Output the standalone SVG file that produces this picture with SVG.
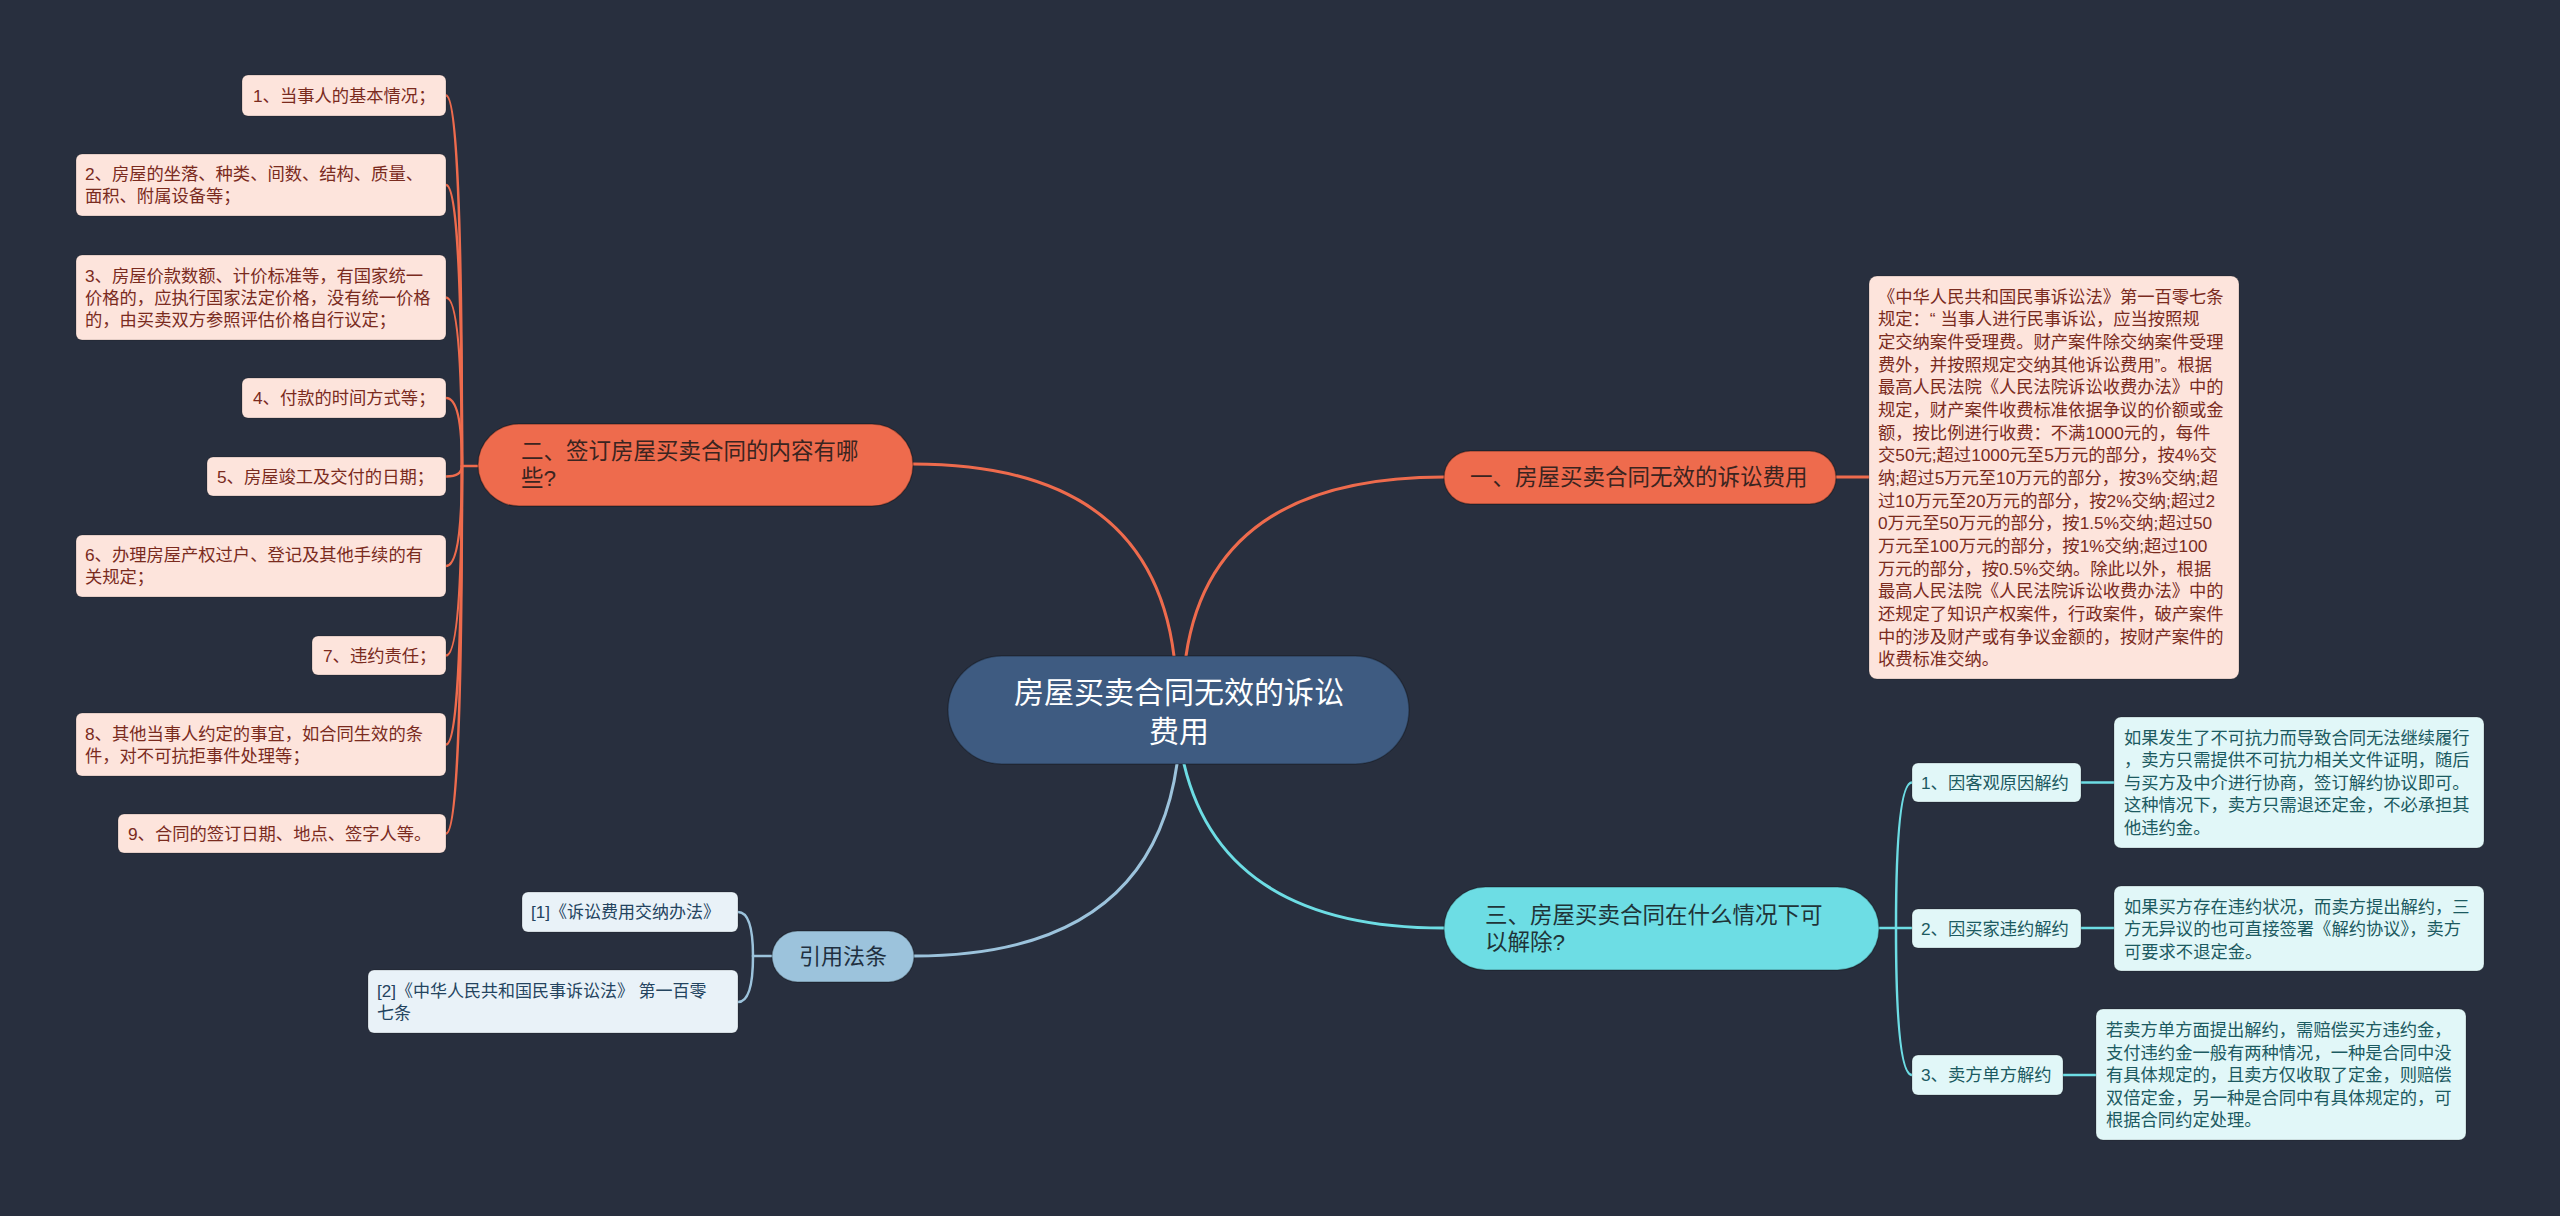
<svg xmlns="http://www.w3.org/2000/svg" width="2560" height="1216" viewBox="0 0 2560 1216">
<defs>
<style>
text{font-family:'Liberation Sans','Noto Sans CJK SC',sans-serif;dominant-baseline:central}
.c{fill:none;stroke-linecap:round}
.o{stroke:#ee6b4d;stroke-width:3}
.o2{stroke:#ee6b4d;stroke-width:2.5}
.cy{stroke:#6ddde4;stroke-width:3}
.cy2{stroke:#6ddde4;stroke-width:2.5}
.lb{stroke:#9cc3dc;stroke-width:3}
.lb2{stroke:#9cc3dc;stroke-width:2.5}
.center rect{fill:#3e5b81;stroke:rgba(0,0,0,0.25);stroke-width:1.5}
.center text{fill:#ffffff;font-size:30px;text-anchor:middle}
.topicO rect{fill:#ee6b4d;stroke:rgba(0,0,0,0.3);stroke-width:1.5}
.topicO text{fill:#3a2420;font-size:22.5px}
.topicC rect{fill:#6ddde4;stroke:rgba(0,0,0,0.25);stroke-width:1.5}
.topicC text{fill:#1f3438;font-size:22.5px}
.topicB rect{fill:#9cc3dc;stroke:rgba(0,0,0,0.25);stroke-width:1.5}
.topicB text{fill:#1f3040;font-size:22px;text-anchor:middle}
.leafO rect{fill:#fde4dc;stroke:rgba(0,0,0,0.2);stroke-width:1}
.leafO text{fill:#7a2b1e;font-size:17.3px}
.leafC rect{fill:#e1f7f8;stroke:rgba(0,0,0,0.2);stroke-width:1}
.leafC text{fill:#1c5a61;font-size:17.3px}
.leafB rect{fill:#e9f2f8;stroke:rgba(0,0,0,0.2);stroke-width:1}
.leafB text{fill:#24445f;font-size:17px}
</style>
</defs>
<rect x="0" y="0" width="2560" height="1216" fill="#282f3e"/>

<g id="connectors">
<path class="c o" d="M1174 656 Q1150 464 913 464"/>
<path class="c o" d="M1186 656 Q1212 477 1444 477"/>
<path class="c o" d="M1836 477 L1869 477"/>
<path class="c cy" d="M1184 764 Q1223 928 1444 928"/>
<path class="c lb" d="M1177 764 Q1150 956 914 956"/>
<path class="c o2" d="M478 466 L462 466"/>
<path class="c o2" d="M462 466 Q462 95.5 446 95.5"/>
<path class="c o2" d="M462 466 Q462 185 446 185"/>
<path class="c o2" d="M462 466 Q462 297.5 446 297.5"/>
<path class="c o2" d="M462 466 Q462 398 446 398"/>
<path class="c o2" d="M462 466 Q462 476.5 446 476.5"/>
<path class="c o2" d="M462 466 Q462 566 446 566"/>
<path class="c o2" d="M462 466 Q462 655.5 446 655.5"/>
<path class="c o2" d="M462 466 Q462 744.5 446 744.5"/>
<path class="c o2" d="M462 466 Q462 833.5 446 833.5"/>
<path class="c cy2" d="M1879 928 L1896 928"/>
<path class="c cy2" d="M1896 928 Q1896 782.5 1912 782.5"/>
<path class="c cy2" d="M1896 928 L1912 928"/>
<path class="c cy2" d="M1896 928 Q1896 1075 1912 1075"/>
<path class="c cy2" d="M2081 782.5 L2114 782.5"/>
<path class="c cy2" d="M2081 928 L2114 928"/>
<path class="c cy2" d="M2063 1075 L2096 1075"/>
<path class="c lb2" d="M772 956 L753 956"/>
<path class="c lb2" d="M753 956 Q753 912 738 912"/>
<path class="c lb2" d="M753 956 Q753 1002 738 1002"/>
</g>

<g id="central" class="center">
<rect x="948" y="656" width="461" height="108" rx="54"/>
<text x="1179" y="692">房屋买卖合同无效的诉讼</text>
<text x="1179" y="731">费用</text>
</g>

<g id="topic1" class="topicO">
<rect x="1444" y="451" width="392" height="53" rx="26.5"/>
<text x="1470" y="477.5">一、房屋买卖合同无效的诉讼费用</text>
</g>

<g id="topic1-detail" class="leafO">
<rect x="1869" y="276" width="370" height="403" rx="8"/>
<text x="1878" y="296.7">《中华人民共和国民事诉讼法》第一百零七条</text>
<text x="1878" y="319.4">规定：“ 当事人进行民事诉讼，应当按照规</text>
<text x="1878" y="342">定交纳案件受理费。财产案件除交纳案件受理</text>
<text x="1878" y="364.7">费外，并按照规定交纳其他诉讼费用”。根据</text>
<text x="1878" y="387.3">最高人民法院《人民法院诉讼收费办法》中的</text>
<text x="1878" y="410">规定，财产案件收费标准依据争议的价额或金</text>
<text x="1878" y="432.6">额，按比例进行收费：不满1000元的，每件</text>
<text x="1878" y="455.3">交50元;超过1000元至5万元的部分，按4%交</text>
<text x="1878" y="477.9">纳;超过5万元至10万元的部分，按3%交纳;超</text>
<text x="1878" y="500.6">过10万元至20万元的部分，按2%交纳;超过2</text>
<text x="1878" y="523.2">0万元至50万元的部分，按1.5%交纳;超过50</text>
<text x="1878" y="545.9">万元至100万元的部分，按1%交纳;超过100</text>
<text x="1878" y="568.5">万元的部分，按0.5%交纳。除此以外，根据</text>
<text x="1878" y="591.2">最高人民法院《人民法院诉讼收费办法》中的</text>
<text x="1878" y="613.8">还规定了知识产权案件，行政案件，破产案件</text>
<text x="1878" y="636.5">中的涉及财产或有争议金额的，按财产案件的</text>
<text x="1878" y="659.1">收费标准交纳。</text>
</g>

<g id="topic2" class="topicO">
<rect x="478" y="424" width="435" height="82" rx="41"/>
<text x="521" y="451.5">二、签订房屋买卖合同的内容有哪</text>
<text x="521" y="478.5">些?</text>
</g>

<g id="leaf2-1" class="leafO">
<rect x="242" y="75" width="204" height="41" rx="6"/>
<text x="253" y="95.5">1、当事人的基本情况；</text>
</g>
<g id="leaf2-2" class="leafO">
<rect x="76" y="154" width="370" height="62" rx="6"/>
<text x="85" y="174">2、房屋的坐落、种类、间数、结构、质量、</text>
<text x="85" y="196">面积、附属设备等；</text>
</g>
<g id="leaf2-3" class="leafO">
<rect x="76" y="255" width="370" height="85" rx="6"/>
<text x="85" y="276">3、房屋价款数额、计价标准等，有国家统一</text>
<text x="85" y="298">价格的，应执行国家法定价格，没有统一价格</text>
<text x="85" y="320">的，由买卖双方参照评估价格自行议定；</text>
</g>
<g id="leaf2-4" class="leafO">
<rect x="242" y="378" width="204" height="40" rx="6"/>
<text x="253" y="398">4、付款的时间方式等；</text>
</g>
<g id="leaf2-5" class="leafO">
<rect x="207" y="457" width="239" height="39" rx="6"/>
<text x="217" y="476.5">5、房屋竣工及交付的日期；</text>
</g>
<g id="leaf2-6" class="leafO">
<rect x="76" y="535" width="370" height="62" rx="6"/>
<text x="85" y="555">6、办理房屋产权过户、登记及其他手续的有</text>
<text x="85" y="577">关规定；</text>
</g>
<g id="leaf2-7" class="leafO">
<rect x="312" y="636" width="134" height="39" rx="6"/>
<text x="323" y="655.5">7、违约责任；</text>
</g>
<g id="leaf2-8" class="leafO">
<rect x="76" y="713" width="370" height="63" rx="6"/>
<text x="85" y="733.5">8、其他当事人约定的事宜，如合同生效的条</text>
<text x="85" y="755.5">件，对不可抗拒事件处理等；</text>
</g>
<g id="leaf2-9" class="leafO">
<rect x="118" y="814" width="328" height="39" rx="6"/>
<text x="128" y="833.5">9、合同的签订日期、地点、签字人等。</text>
</g>

<g id="topic3" class="topicC">
<rect x="1444" y="887" width="435" height="83" rx="41.5"/>
<text x="1485" y="915">三、房屋买卖合同在什么情况下可</text>
<text x="1485" y="942">以解除?</text>
</g>

<g id="sub3-1" class="leafC">
<rect x="1912" y="763" width="169" height="39" rx="6"/>
<text x="1921" y="782.5">1、因客观原因解约</text>
</g>
<g id="sub3-1-detail" class="leafC">
<rect x="2114" y="717" width="370" height="131" rx="7"/>
<text x="2124" y="737.5">如果发生了不可抗力而导致合同无法继续履行</text>
<text x="2124" y="760.1">，卖方只需提供不可抗力相关文件证明，随后</text>
<text x="2124" y="782.7">与买方及中介进行协商，签订解约协议即可。</text>
<text x="2124" y="805.3">这种情况下，卖方只需退还定金，不必承担其</text>
<text x="2124" y="827.9">他违约金。</text>
</g>
<g id="sub3-2" class="leafC">
<rect x="1912" y="909" width="169" height="39" rx="6"/>
<text x="1921" y="928.5">2、因买家违约解约</text>
</g>
<g id="sub3-2-detail" class="leafC">
<rect x="2114" y="886" width="370" height="85" rx="7"/>
<text x="2124" y="906.7">如果买方存在违约状况，而卖方提出解约，三</text>
<text x="2124" y="929.3">方无异议的也可直接签署《解约协议》，卖方</text>
<text x="2124" y="951.9">可要求不退定金。</text>
</g>
<g id="sub3-3" class="leafC">
<rect x="1912" y="1055" width="151" height="40" rx="6"/>
<text x="1921" y="1075">3、卖方单方解约</text>
</g>
<g id="sub3-3-detail" class="leafC">
<rect x="2096" y="1009" width="370" height="131" rx="7"/>
<text x="2106" y="1030">若卖方单方面提出解约，需赔偿买方违约金，</text>
<text x="2106" y="1052.6">支付违约金一般有两种情况，一种是合同中没</text>
<text x="2106" y="1075.2">有具体规定的，且卖方仅收取了定金，则赔偿</text>
<text x="2106" y="1097.8">双倍定金，另一种是合同中有具体规定的，可</text>
<text x="2106" y="1120.4">根据合同约定处理。</text>
</g>

<g id="topic4" class="topicB">
<rect x="772" y="931" width="142" height="51" rx="25.5"/>
<text x="843" y="956.5">引用法条</text>
</g>
<g id="ref1" class="leafB">
<rect x="522" y="892" width="216" height="40" rx="6"/>
<text x="531" y="912">[1]《诉讼费用交纳办法》</text>
</g>
<g id="ref2" class="leafB">
<rect x="368" y="970" width="370" height="63" rx="6"/>
<text x="377" y="991">[2]《中华人民共和国民事诉讼法》 第一百零</text>
<text x="377" y="1013">七条</text>
</g>
</svg>
